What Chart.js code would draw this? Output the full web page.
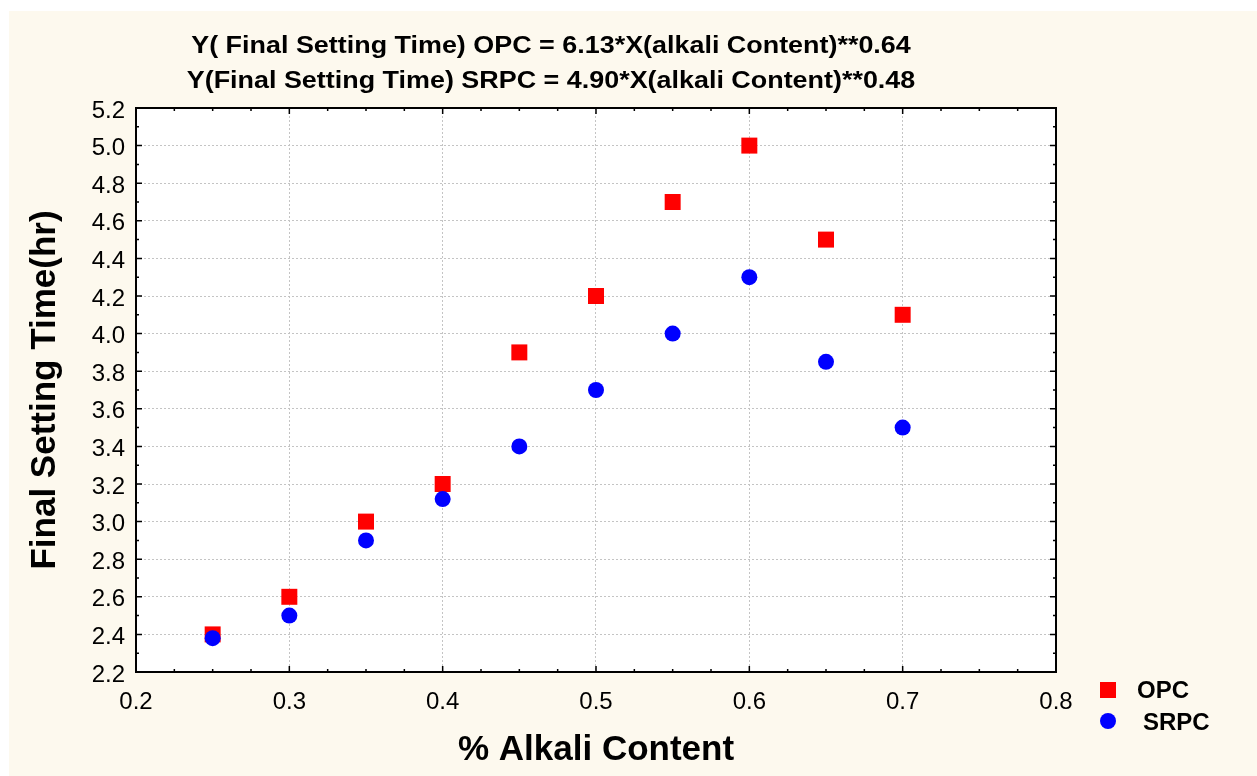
<!DOCTYPE html>
<html>
<head>
<meta charset="utf-8">
<script src="https://cdn.jsdelivr.net/npm/chart.js@4/dist/chart.umd.min.js"></script>
<style>
  html, body { margin: 0; padding: 0; background: #ffffff; }
  #wrap { position: relative; width: 1257px; height: 776px; }
  canvas { display: block; }
</style>
</head>
<body>
<div id="wrap"><canvas id="c" width="1257" height="776"></canvas></div>
<script>
// ---- data ----
const xValues    = [0.25, 0.30, 0.35, 0.40, 0.45, 0.50, 0.55, 0.60, 0.65, 0.70];
const opcValues  = [2.40, 2.60, 3.00, 3.20, 3.90, 4.20, 4.70, 5.00, 4.50, 4.10];
const srpcValues = [2.38, 2.50, 2.90, 3.12, 3.40, 3.70, 4.00, 4.30, 3.85, 3.50];
const seriesNames = ['OPC', 'SRPC'];
const xTickValues = [0.2, 0.3, 0.4, 0.5, 0.6, 0.7, 0.8];
const yTickValues = [2.2, 2.4, 2.6, 2.8, 3.0, 3.2, 3.4, 3.6, 3.8, 4.0, 4.2, 4.4, 4.6, 4.8, 5.0, 5.2];
const titleLines = [
  'Y( Final Setting Time) OPC = 6.13*X(alkali Content)**0.64',
  'Y(Final Setting Time) SRPC = 4.90*X(alkali Content)**0.48'
];
const xAxisTitle = '% Alkali Content';
const yAxisTitle = 'Final Setting Time(hr)';

const FONT = "'Liberation Sans', Arial, sans-serif";
const CREAM = '#fdf9ee';

const toPoints = (xs, ys) => xs.map((x, i) => ({ x: x, y: ys[i] }));

const decorPlugin = {
  id: 'decor',
  beforeDraw(chart) {
    const { ctx, chartArea: a, width, height } = chart;
    ctx.save();
    ctx.fillStyle = '#ffffff';
    ctx.fillRect(0, 0, width, height);
    ctx.fillStyle = CREAM;
    ctx.fillRect(9, 11, width - 9, height - 11);
    ctx.fillStyle = '#ffffff';
    ctx.fillRect(a.left, a.top, a.right - a.left, a.bottom - a.top);
    ctx.restore();
  },
  afterDraw(chart) {
    const { ctx, chartArea: a } = chart;
    const xs = chart.scales.x, ys = chart.scales.y;
    ctx.save();
    // inward ticks
    ctx.strokeStyle = '#000000';
    ctx.lineWidth = 1.5;
    ctx.beginPath();
    for (let i = 0; i <= 24; i++) {
      const v = 0.2 + i * 0.025;
      const px = xs.getPixelForValue(v);
      const len = (i % 4 === 0) ? 6 : 3;
      ctx.moveTo(px, a.bottom); ctx.lineTo(px, a.bottom - len);
      ctx.moveTo(px, a.top); ctx.lineTo(px, a.top + len);
    }
    for (let i = 0; i <= 30; i++) {
      const v = 2.2 + i * 0.1;
      const py = ys.getPixelForValue(v);
      const len = (i % 2 === 0) ? 6 : 3;
      ctx.moveTo(a.left, py); ctx.lineTo(a.left + len, py);
      ctx.moveTo(a.right, py); ctx.lineTo(a.right - len, py);
    }
    ctx.stroke();
    // frame
    ctx.lineWidth = 2;
    ctx.strokeRect(a.left, a.top, a.right - a.left, a.bottom - a.top);

    // title
    ctx.fillStyle = '#000000';
    ctx.font = 'bold 23px ' + FONT;
    ctx.textAlign = 'center';
    ctx.textBaseline = 'alphabetic';
    const tb = [53, 88];
    titleLines.forEach((t, i) => {
      ctx.save();
      ctx.translate(551, tb[i]);
      ctx.scale(1.17, 1);
      ctx.fillText(t, 0, 0);
      ctx.restore();
    });

    // legend
    const ds = chart.data.datasets;
    ctx.font = 'bold 24px ' + FONT;
    ctx.textAlign = 'left';
    ctx.textBaseline = 'middle';
    // OPC square
    ctx.fillStyle = ds[0].backgroundColor;
    ctx.fillRect(1100, 682, 16, 16);
    ctx.fillStyle = '#000000';
    ctx.fillText(ds[0].label, 1137, 691);
    // SRPC circle
    ctx.fillStyle = ds[1].backgroundColor;
    ctx.beginPath();
    ctx.arc(1108, 721, 8, 0, Math.PI * 2);
    ctx.fill();
    ctx.fillStyle = '#000000';
    ctx.fillText(ds[1].label, 1143, 723);
    ctx.restore();
  }
};

new Chart(document.getElementById('c'), {
  type: 'scatter',
  data: {
    datasets: [
      {
        label: seriesNames[0],
        data: toPoints(xValues, opcValues),
        pointStyle: 'rect',
        pointRadius: 11.3,
        pointHoverRadius: 11.3,
        backgroundColor: '#ff0000',
        borderColor: '#ff2020',
        borderWidth: 0,
        order: 1
      },
      {
        label: seriesNames[1],
        data: toPoints(xValues, srpcValues),
        pointStyle: 'circle',
        pointRadius: 8,
        pointHoverRadius: 8,
        backgroundColor: '#0000ff',
        borderColor: '#0000ff',
        borderWidth: 0,
        order: 0
      }
    ]
  },
  options: {
    responsive: false,
    animation: false,
    events: [],
    layout: { padding: { left: 9, right: 201, top: 108, bottom: 0 } },
    plugins: {
      legend: { display: false },
      title: { display: false },
      tooltip: { enabled: false }
    },
    scales: {
      x: {
        type: 'linear',
        min: 0.2, max: 0.8,
        afterBuildTicks: s => { s.ticks = xTickValues.map(v => ({ value: v })); },
        afterFit: s => { s.height = 104; },
        grid: { color: '#c4c4c4', lineWidth: 1, drawTicks: false },
        border: { display: false, dash: [2, 2] },
        ticks: {
          color: '#000000',
          font: { family: FONT, size: 24 },
          padding: 16,
          maxRotation: 0,
          callback: v => Number(v).toFixed(1)
        },
        title: {
          display: true,
          text: xAxisTitle,
          color: '#000000',
          font: { family: FONT, size: 35, weight: 'bold' },
          padding: { top: 0, bottom: 5 }
        }
      },
      y: {
        type: 'linear',
        min: 2.2, max: 5.2,
        afterBuildTicks: s => { s.ticks = yTickValues.map(v => ({ value: v })); },
        afterFit: s => { s.width = 127; },
        grid: { color: '#c4c4c4', lineWidth: 1, drawTicks: false },
        border: { display: false, dash: [2, 2] },
        ticks: {
          color: '#000000',
          font: { family: FONT, size: 24 },
          padding: 11,
          labelOffset: 3,
          callback: v => Number(v).toFixed(1)
        },
        title: {
          display: true,
          text: yAxisTitle,
          color: '#000000',
          font: { family: FONT, size: 35, weight: 'bold' },
          padding: { top: 15, bottom: 0 }
        }
      }
    }
  },
  plugins: [decorPlugin]
});
</script>
</body>
</html>
